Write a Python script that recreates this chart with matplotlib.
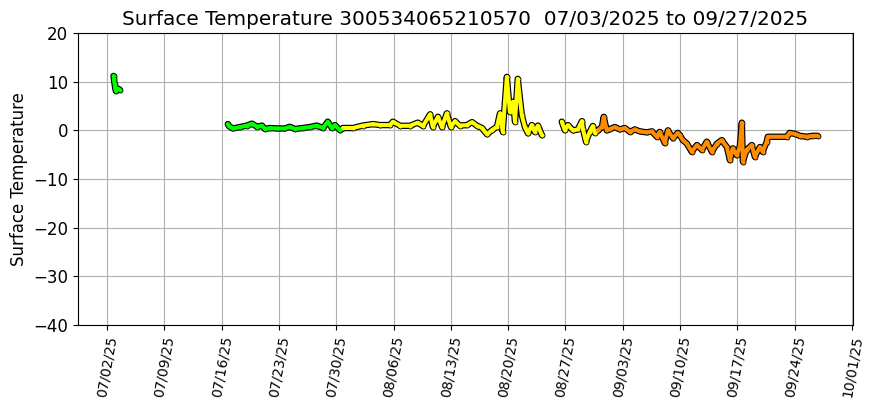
## Surface temperature time series for one drifter, coloured by month

import numpy as np
import pandas as pd
import matplotlib
matplotlib.use("Agg")
import matplotlib.pyplot as plt
import matplotlib.dates as mdates

## July (green), first short piece
jul_a_times = ["2025-07-02 19:00", "2025-07-02 20:00", "2025-07-02 22:00", "2025-07-03 00:00",
               "2025-07-03 02:00", "2025-07-03 07:00", "2025-07-03 13:00"]
jul_a_temps = [11.2, 10.5, 9.6, 8.7, 8.1, 8.6, 8.4]

## July (green), main piece
jul_b_times = ["2025-07-16 18:00", "2025-07-16 21:00", "2025-07-17 09:00", "2025-07-18 06:00",
               "2025-07-19 02:00", "2025-07-19 17:00", "2025-07-20 08:00", "2025-07-20 22:00",
               "2025-07-21 07:00", "2025-07-21 22:00", "2025-07-22 18:00", "2025-07-23 17:00",
               "2025-07-24 08:00", "2025-07-24 23:00", "2025-07-25 22:00", "2025-07-26 19:00",
               "2025-07-27 15:00", "2025-07-28 09:00", "2025-07-28 23:00", "2025-07-29 11:00",
               "2025-07-29 20:00", "2025-07-30 11:00", "2025-07-30 20:00"]
jul_b_temps = [1.3, 0.9, 0.4, 0.7, 1.0, 1.4, 0.75, 1.0, 0.3, 0.5, 0.4, 0.4,
               0.75, 0.3, 0.5, 0.7, 1.0, 0.5, 1.8, 0.5, 1.1, 0.05, 0.5]

## August (yellow), first piece
aug_a_times = ["2025-07-30 20:00", "2025-08-01 01:00", "2025-08-02 06:00", "2025-08-03 12:00",
               "2025-08-04 08:00", "2025-08-05 13:00", "2025-08-05 22:00", "2025-08-06 19:00",
               "2025-08-08 00:00", "2025-08-08 23:00", "2025-08-09 14:00", "2025-08-10 11:00",
               "2025-08-10 19:00", "2025-08-11 10:00", "2025-08-11 22:00", "2025-08-12 12:00",
               "2025-08-13 00:00", "2025-08-13 12:00", "2025-08-14 02:00", "2025-08-14 23:00",
               "2025-08-15 14:00", "2025-08-16 04:00", "2025-08-16 19:00", "2025-08-17 10:00",
               "2025-08-18 00:00", "2025-08-18 15:00", "2025-08-19 00:00", "2025-08-19 08:00",
               "2025-08-19 20:00", "2025-08-20 05:00", "2025-08-20 14:00", "2025-08-20 20:00",
               "2025-08-21 04:00", "2025-08-21 16:00", "2025-08-22 01:00", "2025-08-22 10:00",
               "2025-08-22 21:00", "2025-08-23 06:00", "2025-08-23 15:00", "2025-08-24 03:00"]
aug_a_temps = [0.5, 0.5, 1.0, 1.3, 1.1, 1.1, 1.8, 0.95, 0.95, 1.6, 0.9, 3.3,
               0.75, 2.8, 0.7, 3.5, 0.7, 1.9, 1.0, 1.1, 1.7, 1.0, 0.5, -0.8,
               0.05, 0.75, 3.5, -0.3, 11.0, 3.8, 5.9, 1.8, 10.6, 3.1, 0.7, -0.6,
               1.1, -0.3, 1.0, -1.0]

## August (yellow), second piece
aug_b_times = ["2025-08-26 13:00", "2025-08-26 22:00", "2025-08-27 07:00", "2025-08-27 22:00",
               "2025-08-28 12:00", "2025-08-29 00:00", "2025-08-29 03:00", "2025-08-29 12:00",
               "2025-08-29 23:00", "2025-08-30 08:00", "2025-08-30 14:00", "2025-08-30 23:00"]
aug_b_temps = [1.8, 0.05, 1.1, 0.0, 0.2, 1.9, 0.3, -2.3, -0.3, 0.9, -0.5, 0.0]

## September (orange)
sep_times = ["2025-08-30 23:00", "2025-08-31 11:00", "2025-08-31 16:00", "2025-09-01 01:00",
             "2025-09-01 10:00", "2025-09-02 01:00", "2025-09-02 15:00", "2025-09-03 06:00",
             "2025-09-03 21:00", "2025-09-04 11:00", "2025-09-05 02:00", "2025-09-05 22:00",
             "2025-09-06 13:00", "2025-09-07 04:00", "2025-09-07 12:00", "2025-09-08 03:00",
             "2025-09-08 12:00", "2025-09-09 03:00", "2025-09-09 17:00", "2025-09-09 23:00",
             "2025-09-10 08:00", "2025-09-10 20:00", "2025-09-11 10:00", "2025-09-12 01:00",
             "2025-09-12 16:00", "2025-09-13 06:00", "2025-09-13 21:00", "2025-09-14 12:00",
             "2025-09-15 02:00", "2025-09-15 17:00", "2025-09-16 02:00", "2025-09-16 10:00",
             "2025-09-16 22:00", "2025-09-17 07:00", "2025-09-17 13:00", "2025-09-17 16:00",
             "2025-09-18 03:00", "2025-09-18 18:00", "2025-09-19 03:00", "2025-09-19 18:00",
             "2025-09-20 02:00", "2025-09-20 14:00", "2025-09-20 17:00", "2025-09-23 01:00",
             "2025-09-23 09:00", "2025-09-24 00:00", "2025-09-24 15:00", "2025-09-25 11:00",
             "2025-09-26 05:00", "2025-09-26 19:00"]
sep_temps = [0.0, 0.75, 2.8, 0.0, 0.3, 0.7, 0.2, 0.5, -0.3, 0.2, -0.2, -0.4,
             -0.2, -1.3, -0.3, -2.6, 0.0, -1.6, -0.5, -1.0, -2.0, -2.7, -4.4, -3.0,
             -4.0, -2.3, -4.4, -2.7, -2.0, -3.4, -6.1, -3.7, -5.1, -3.3, 1.6, -6.4,
             -4.0, -3.0, -5.4, -3.4, -4.4, -2.3, -1.3, -1.3, -0.5, -0.7, -1.1, -1.3,
             -1.1, -1.1]

pieces = [(jul_a_times, jul_a_temps, "#00ff00"),
          (jul_b_times, jul_b_temps, "#00ff00"),
          (aug_a_times, aug_a_temps, "#ffff00"),
          (aug_b_times, aug_b_temps, "#ffff00"),
          (sep_times, sep_temps, "#ff8c00")]

fig, ax = plt.subplots(figsize=(8.71, 4.08), dpi=100)
fig.subplots_adjust(left=0.0896, right=0.979, top=0.919, bottom=0.203)

## black outline first so the coloured strokes sit on top of it
for times, temps, col in pieces:
    t = pd.to_datetime(times)
    ax.plot(t, temps, c='k', lw=4.6, solid_capstyle='round', solid_joinstyle='round', zorder=3)
for times, temps, col in pieces:
    t = pd.to_datetime(times)
    ax.plot(t, temps, ls='none', marker='o', ms=3.6, mfc=col, mec='k', mew=0.6, zorder=4)
for times, temps, col in pieces:
    t = pd.to_datetime(times)
    ax.plot(t, temps, c=col, lw=2.9, solid_capstyle='round', solid_joinstyle='round', zorder=5)

ax.set_ylim(-40, 20)
ax.set_yticks(np.arange(-40, 21, 10))
ax.set_xlim(pd.Timestamp("2025-06-28 11:00"), pd.Timestamp("2025-10-01 02:00"))
ax.set_xticks(pd.date_range("2025-07-02", "2025-10-01", freq="7D"))
ax.xaxis.set_major_formatter(mdates.DateFormatter("%m/%d/%y"))
plt.setp(ax.get_xticklabels(), rotation=80, fontsize=10)
ax.tick_params(axis='y', labelsize=12)
ax.grid(True)
ax.set_axisbelow(True)
ax.set_ylabel("Surface Temperature", fontsize=12)
ax.set_title("Surface Temperature 300534065210570  07/03/2025 to 09/27/2025", fontsize=14.4)

plt.savefig("out.png")
